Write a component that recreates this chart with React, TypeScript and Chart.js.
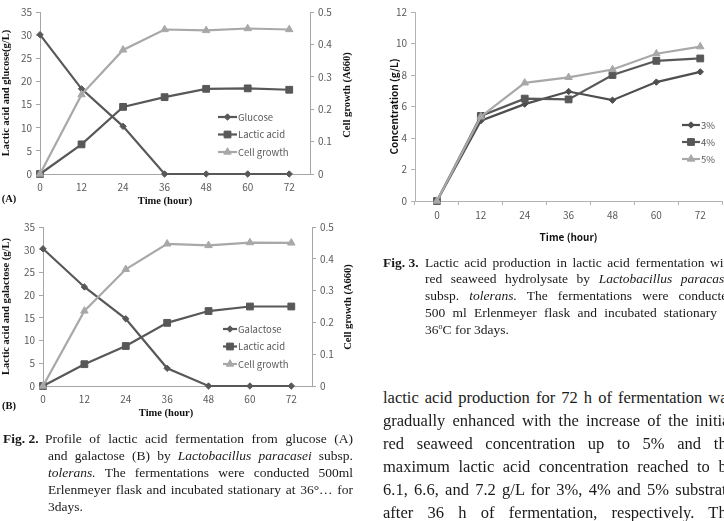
import React, { useEffect, useRef } from "react";
import { Chart, registerables } from "chart.js";
import { drawPoint } from "chart.js/helpers";

Chart.register(...registerables);

// ---------------- data ----------------
const hours = [0, 12, 24, 36, 48, 60, 72];
const hourLabels = ["0", "12", "24", "36", "48", "60", "72"];
const leftTicksAB = [0, 5, 10, 15, 20, 25, 30, 35];
const rightTicksAB = [0, 0.1, 0.2, 0.3, 0.4, 0.5];
const concTicks = [0, 2, 4, 6, 8, 10, 12];

// Fig 2 (A) glucose
const glucoseA = [30.1, 18.4, 10.3, 0, 0, 0, 0];
const lacticA = [0, 6.4, 14.5, 16.6, 18.4, 18.5, 18.2];
const cellA = [0, 0.245, 0.383, 0.446, 0.443, 0.449, 0.446];

// Fig 2 (B) galactose
const galactoseB = [30.2, 21.8, 14.8, 3.9, 0, 0, 0];
const lacticB = [0, 4.8, 8.8, 13.9, 16.5, 17.5, 17.5];
const cellB = [0, 0.236, 0.367, 0.447, 0.442, 0.451, 0.45];

// Fig 3
const conc3 = [0, 5.1, 6.15, 6.95, 6.4, 7.55, 8.2];
const conc4 = [0, 5.4, 6.5, 6.45, 8.0, 8.9, 9.05];
const conc5 = [0, 5.35, 7.5, 7.85, 8.35, 9.35, 9.8];

// ---------------- styles ----------------
const DARK = "#585858";
const DARK2 = "#4e4e4e";
const LIGHT = "#a8a8a8";
const AXIS = "#a6a6a6";
const AXIS3 = "#b3b3b3";
const TICK = "#5a5a5a";
const SANS = "'Noto Sans CJK KR', 'Noto Sans', sans-serif";
const SERIF = "'Liberation Serif', 'Times New Roman', serif";

const insideLegend = {
  id: "insideLegend",
  afterDatasetsDraw(chart: any, _a: any, opts: any) {
    if (!opts || !opts.show) return;
    const ctx = chart.ctx;
    ctx.save();
    ctx.font = opts.font;
    ctx.textBaseline = "middle";
    ctx.textAlign = "left";
    chart.data.datasets.forEach((ds: any, i: number) => {
      const y = opts.y + i * opts.spacing;
      const x = opts.x;
      ctx.strokeStyle = ds.borderColor;
      ctx.lineWidth = ds.borderWidth;
      ctx.beginPath();
      ctx.moveTo(x, y);
      ctx.lineTo(x + opts.lineLength, y);
      ctx.stroke();
      ctx.fillStyle = ds.pointBackgroundColor;
      ctx.strokeStyle = ds.pointBorderColor;
      ctx.lineWidth = 1;
      drawPoint(ctx, { pointStyle: ds.pointStyle, radius: ds.pointRadius, borderWidth: 1, rotation: 0 } as any, x + opts.lineLength / 2, y);
      ctx.fillStyle = opts.color;
      ctx.fillText(ds.label, x + opts.lineLength + opts.gap, y);
    });
    ctx.restore();
  },
};

function lineDs(label: string, data: any[], color: string, pointStyle: string, radius: number, order: number, yAxisID = "y") {
  return {
    label,
    data,
    borderColor: color,
    backgroundColor: color,
    pointBackgroundColor: color,
    pointBorderColor: color,
    borderWidth: 2.2,
    pointStyle,
    pointRadius: radius,
    pointBorderWidth: 1,
    tension: 0,
    yAxisID,
    order,
    clip: false,
  };
}

const xy = (vals: number[]) => hours.map((h, i) => ({ x: h, y: vals[i] }));
const setTicks = (arr: number[]) => (s: any) => {
  s.ticks = arr.map((v) => ({ value: v }));
};

function dualConfig(subLabel: string, sub: number[], lactic: number[], cell: number[], yTitle: string, legend: any) {
  return {
    type: "line",
    data: {
      datasets: [
        lineDs(subLabel, xy(sub), DARK, "rectRot", 3.2, 3),
        lineDs("Lactic acid", xy(lactic), DARK, "rect", 4.8, 2),
        lineDs("Cell growth", xy(cell), LIGHT, "triangle", 4.3, 1, "y1"),
      ],
    },
    options: {
      responsive: false,
      animation: false,
      events: [],
      layout: { padding: { top: 12, left: 0, right: 0, bottom: 0 } },
      plugins: {
        legend: { display: false },
        tooltip: { enabled: false },
        insideLegend: { show: true, font: `9.5px ${SANS}`, color: TICK, gap: 1, ...legend },
      },
      scales: {
        x: {
          type: "linear",
          min: 0,
          max: 78,
          afterBuildTicks: setTicks(hours),
          grid: { display: false, drawTicks: false, tickLength: 0 },
          border: { display: true, color: AXIS, width: 1 },
          ticks: { color: TICK, font: { family: SANS, size: 10 }, padding: 7, maxRotation: 0 },
          afterFit: (s: any) => {
            s.height = legend.xH;
          },
        },
        y: {
          position: "left",
          min: 0,
          max: 35,
          afterBuildTicks: setTicks(leftTicksAB),
          grid: { drawOnChartArea: false, drawTicks: true, tickLength: 4, color: AXIS },
          border: { display: true, color: AXIS, width: 1 },
          ticks: { color: TICK, font: { family: SANS, size: 10 }, padding: 4 },
          title: {
            display: true,
            text: yTitle,
            color: "#111",
            font: { family: SERIF, size: 10.5, weight: "bold" },
            padding: { top: 0, bottom: 0 },
          },
          afterFit: (s: any) => {
            s.width = legend.leftW;
          },
        },
        y1: {
          position: "right",
          min: 0,
          max: 0.5,
          afterBuildTicks: setTicks(rightTicksAB),
          grid: { drawOnChartArea: false, drawTicks: true, tickLength: 4, color: AXIS },
          border: { display: true, color: AXIS, width: 1 },
          ticks: { color: TICK, font: { family: SANS, size: 10 }, padding: 4, callback: (v: any) => String(v) },
          afterFit: (s: any) => {
            s.width = legend.rightW;
          },
        },
      },
    },
    plugins: [insideLegend],
  };
}

function fig3Config() {
  return {
    type: "line",
    data: {
      labels: hourLabels,
      datasets: [
        lineDs("3%", conc3, DARK2, "rectRot", 3.2, 3),
        lineDs("4%", conc4, DARK, "rect", 4.8, 2),
        lineDs("5%", conc5, LIGHT, "triangle", 4.3, 1),
      ],
    },
    options: {
      responsive: false,
      animation: false,
      events: [],
      layout: { padding: { top: 12, left: 0, right: 0, bottom: 0 } },
      plugins: {
        legend: { display: false },
        tooltip: { enabled: false },
        insideLegend: { show: true, x: 320, y: 125, spacing: 17, lineLength: 18, gap: 1, font: `9.5px ${SANS}`, color: TICK },
      },
      scales: {
        x: {
          type: "category",
          offset: true,
          grid: { display: true, drawOnChartArea: false, drawTicks: true, offset: true, tickLength: 4, color: AXIS3 },
          border: { display: true, color: AXIS3, width: 1 },
          ticks: { color: TICK, font: { family: SANS, size: 10 }, padding: 4, maxRotation: 0 },
          title: {
            display: true,
            text: "Time (hour)",
            color: "#111",
            font: { family: SANS, size: 10, weight: "bold" },
            padding: { top: 0, bottom: 7 },
          },
          afterFit: (s: any) => {
            s.height = 49;
          },
        },
        y: {
          min: 0,
          max: 12,
          afterBuildTicks: setTicks(concTicks),
          grid: { drawOnChartArea: false, drawTicks: true, tickLength: 4, color: AXIS3 },
          border: { display: true, color: AXIS3, width: 1 },
          ticks: { color: TICK, font: { family: SANS, size: 10 }, padding: 4 },
          title: {
            display: true,
            text: "Concentration (g/L)",
            color: "#111",
            font: { family: SANS, size: 10, weight: "bold" },
            padding: { top: 26, bottom: 0 },
          },
          afterFit: (s: any) => {
            s.width = 53;
          },
        },
      },
    },
    plugins: [insideLegend],
  };
}

function ChartCanvas({ make, left, top, width, height }: any) {
  const ref = useRef<HTMLCanvasElement>(null);
  useEffect(() => {
    const chart = new Chart(ref.current as HTMLCanvasElement, make() as any);
    return () => chart.destroy();
  }, []);
  return (
    <canvas
      ref={ref}
      width={width}
      height={height}
      style={{ position: "absolute", left, top, width, height, display: "block" }}
    />
  );
}

function Label({ cx, cy, text, rotate = 0, style = {} }: any) {
  return (
    <div
      style={{
        position: "absolute",
        left: cx,
        top: cy,
        transform: `translate(-50%, -50%) rotate(${rotate}deg)`,
        whiteSpace: "nowrap",
        lineHeight: 1,
        ...style,
      }}
    >
      {text}
    </div>
  );
}

const serifBold = { fontFamily: SERIF, fontWeight: "bold", fontSize: 10.5, color: "#111" };

function JLine({ left, top, width, lh, fs, children, justify = true }: any) {
  return (
    <div
      style={{
        position: "absolute",
        left,
        top,
        width,
        height: lh,
        lineHeight: `${lh}px`,
        fontSize: fs,
        fontFamily: SERIF,
        color: "#1a1a1a",
        textAlign: justify ? "justify" : "left",
        textAlignLast: justify ? "justify" : "left",
      } as any}
    >
      {children}
    </div>
  );
}

const sup = (t: string) => (
  <span style={{ fontSize: "0.6em", position: "relative", top: "-0.55em", lineHeight: 0 }}>{t}</span>
);

export default function App() {
  const capFs = 13.5;
  const capLh = 17;
  const f2Top = 429.5;
  const f3Top = 254.5;
  const f3Lh = 16.75;
  const bodyTop = 385.5;
  const bodyLh = 23;
  return (
    <div
      style={{
        position: "fixed",
        left: 0,
        top: 0,
        width: 724,
        height: 521,
        overflow: "hidden",
        background: "#fff",
      }}
    >
      {/* Fig 2 (A) */}
      <ChartCanvas
        left={0}
        top={0}
        width={362}
        height={196}
        make={() =>
          dualConfig("Glucose", glucoseA, lacticA, cellA, "Lactic acid and glucose(g/L)", {
            x: 218,
            y: 117,
            spacing: 17.5,
            lineLength: 19,
            leftW: 40,
            rightW: 52,
            xH: 22,
          })
        }
      />
      <Label cx={347} cy={95} rotate={-90} text="Cell growth (A660)" style={serifBold} />
      <Label cx={9} cy={199} text="(A)" style={serifBold} />
      <Label cx={165} cy={201} text="Time (hour)" style={serifBold} />

      {/* Fig 2 (B) */}
      <ChartCanvas
        left={0}
        top={215}
        width={362}
        height={195}
        make={() =>
          dualConfig("Galactose", galactoseB, lacticB, cellB, "Lactic acid and galactose (g/L)", {
            x: 223,
            y: 114,
            spacing: 17.5,
            lineLength: 14,
            leftW: 43,
            rightW: 50,
            xH: 24,
          })
        }
      />
      <Label cx={348} cy={307} rotate={-90} text="Cell growth (A660)" style={serifBold} />
      <Label cx={9} cy={406} text="(B)" style={serifBold} />
      <Label cx={166} cy={413} text="Time (hour)" style={serifBold} />

      {/* Fig 2 caption */}
      <div
        style={{
          position: "absolute",
          left: 3,
          top: f2Top,
          lineHeight: `${capLh}px`,
          fontSize: capFs,
          fontFamily: SERIF,
          fontWeight: "bold",
          color: "#1a1a1a",
          whiteSpace: "nowrap",
        }}
      >
        Fig. 2.
      </div>
      <JLine left={45} top={f2Top} width={308} lh={capLh} fs={capFs}>
        Profile of lactic acid fermentation from glucose (A)
      </JLine>
      <JLine left={48} top={f2Top + capLh} width={305} lh={capLh} fs={capFs}>
        and galactose (B) by <i>Lactobacillus paracasei</i> subsp.
      </JLine>
      <JLine left={48} top={f2Top + capLh * 2} width={305} lh={capLh} fs={capFs}>
        <i>tolerans.</i> The fermentations were conducted 500ml
      </JLine>
      <JLine left={48} top={f2Top + capLh * 3} width={305} lh={capLh} fs={capFs}>
        Erlenmeyer flask and incubated stationary at 36°… for
      </JLine>
      <JLine left={48} top={f2Top + capLh * 4} width={305} lh={capLh} fs={capFs} justify={false}>
        3days.
      </JLine>

      {/* Fig 3 */}
      <ChartCanvas left={362} top={0} width={366} height={250} make={fig3Config} />

      {/* Fig 3 caption */}
      <div
        style={{
          position: "absolute",
          left: 383,
          top: f3Top,
          lineHeight: `${f3Lh}px`,
          fontSize: capFs,
          fontFamily: SERIF,
          fontWeight: "bold",
          color: "#1a1a1a",
          whiteSpace: "nowrap",
        }}
      >
        Fig. 3.
      </div>
      <JLine left={425} top={f3Top} width={309} lh={f3Lh} fs={capFs}>
        Lactic acid production in lactic acid fermentation with
      </JLine>
      <JLine left={425} top={f3Top + f3Lh} width={309} lh={f3Lh} fs={capFs}>
        red seaweed hydrolysate by <i>Lactobacillus paracasei</i>
      </JLine>
      <JLine left={425} top={f3Top + f3Lh * 2} width={309} lh={f3Lh} fs={capFs}>
        subsp. <i>tolerans.</i> The fermentations were conducted
      </JLine>
      <JLine left={425} top={f3Top + f3Lh * 3} width={309} lh={f3Lh} fs={capFs}>
        500 ml Erlenmeyer flask and incubated stationary at
      </JLine>
      <JLine left={425} top={f3Top + f3Lh * 4} width={309} lh={f3Lh} fs={capFs} justify={false}>
        36{sup("o")}C for 3days.
      </JLine>

      {/* body text */}
      <JLine left={383} top={bodyTop} width={351} lh={bodyLh} fs={16.5}>
        lactic acid production for 72 h of fermentation was
      </JLine>
      <JLine left={383} top={bodyTop + bodyLh} width={351} lh={bodyLh} fs={16.5}>
        gradually enhanced with the increase of the initial
      </JLine>
      <JLine left={383} top={bodyTop + bodyLh * 2} width={351} lh={bodyLh} fs={16.5}>
        red seaweed concentration up to 5% and the
      </JLine>
      <JLine left={383} top={bodyTop + bodyLh * 3} width={351} lh={bodyLh} fs={16.5}>
        maximum lactic acid concentration reached to be
      </JLine>
      <JLine left={383} top={bodyTop + bodyLh * 4} width={351} lh={bodyLh} fs={16.5}>
        6.1, 6.6, and 7.2 g/L for 3%, 4% and 5% substrate
      </JLine>
      <JLine left={383} top={bodyTop + bodyLh * 5} width={351} lh={bodyLh} fs={16.5}>
        after 36 h of fermentation, respectively. The
      </JLine>
    </div>
  );
}
